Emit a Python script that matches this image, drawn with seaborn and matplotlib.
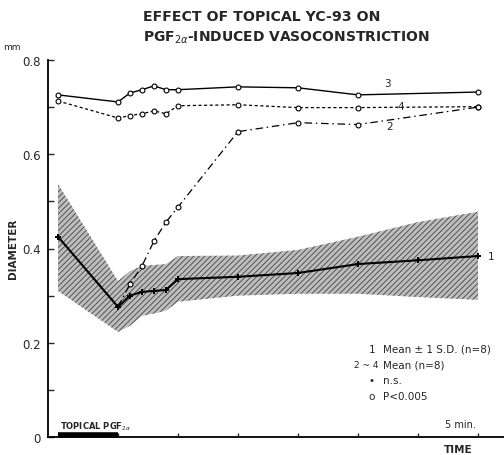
import numpy as np
import pandas as pd
import matplotlib
matplotlib.use("Agg")
import matplotlib.pyplot as plt
import seaborn as sns

# ---------------- data ----------------
time_1 = [0, 5, 6, 7, 8, 9, 10, 15, 20, 25, 30, 35]
mean_1 = [0.425, 0.276, 0.300, 0.308, 0.310, 0.312, 0.335, 0.340, 0.348, 0.367, 0.375, 0.384]
upper_1 = [0.537, 0.331, 0.352, 0.363, 0.365, 0.367, 0.384, 0.385, 0.397, 0.425, 0.456, 0.478]
lower_1 = [0.310, 0.223, 0.236, 0.257, 0.262, 0.268, 0.287, 0.300, 0.304, 0.304, 0.297, 0.291]

time_34 = [0, 5, 6, 7, 8, 9, 10, 15, 20, 25, 35]
series_3 = [0.726, 0.711, 0.730, 0.737, 0.745, 0.737, 0.737, 0.743, 0.741, 0.726, 0.732]
series_4 = [0.713, 0.677, 0.682, 0.686, 0.692, 0.686, 0.703, 0.705, 0.699, 0.699, 0.701]

time_2 = [5, 6, 7, 8, 9, 10, 15, 20, 25, 35]
series_2 = [0.276, 0.325, 0.363, 0.416, 0.456, 0.488, 0.648, 0.667, 0.663, 0.700]

pgf_period = [0, 5]
y_ticks = [0, 0.1, 0.2, 0.3, 0.4, 0.5, 0.6, 0.7, 0.8]
y_labels = ["0", "", "0.2", "", "0.4", "", "0.6", "", "0.8"]
x_ticks = [5, 10, 15, 20, 25, 30, 35]

df1 = pd.DataFrame({"t": time_1, "mean": mean_1, "up": upper_1, "lo": lower_1})
df3 = pd.DataFrame({"t": time_34, "v": series_3})
df4 = pd.DataFrame({"t": time_34, "v": series_4})
df2 = pd.DataFrame({"t": time_2, "v": series_2})

# ---------------- figure ----------------
sns.set_style("ticks")
plt.rcParams["font.family"] = ["DejaVu Sans"]
plt.rcParams["mathtext.fontset"] = "dejavusans"
plt.rcParams["hatch.linewidth"] = 0.6
plt.rcParams["hatch.color"] = "#2a2a2a"

W, H = 504, 456
fig = plt.figure(figsize=(W / 100, H / 100), dpi=100)
fig.patch.set_facecolor("white")
ax = fig.add_axes([48 / W, 1 - 438 / H, (504 - 48) / W, (438 - 61) / H])
ax.set_facecolor("white")

# band (mean +/- 1 SD)
ax.fill_between(df1["t"], df1["lo"], df1["up"], facecolor="#bdbdbd",
                edgecolor="#444444", hatch="//////", linewidth=0.0, zorder=1)

# mean line 1
sns.lineplot(data=df1, x="t", y="mean", ax=ax, color="black", lw=1.5,
             marker="P", markersize=4, markeredgewidth=0, zorder=3)

# series 3 (solid), 4 (dashed), 2 (dash-dot)
sns.lineplot(data=df3, x="t", y="v", ax=ax, color="black", lw=1.0,
             marker="o", markersize=3.5, markerfacecolor="white",
             markeredgecolor="black", markeredgewidth=0.8, zorder=4)
sns.lineplot(data=df4, x="t", y="v", ax=ax, color="black", lw=0.9,
             linestyle=(0, (2.5, 2)), marker="o", markersize=3.5,
             markerfacecolor="white", markeredgecolor="black",
             markeredgewidth=0.8, zorder=4)
sns.lineplot(data=df2, x="t", y="v", ax=ax, color="black", lw=0.9,
             linestyle=(0, (6, 3, 1.2, 3)), marker="o", markersize=3.5,
             markerfacecolor="white", markeredgecolor="black",
             markeredgewidth=0.8, zorder=4)
# first point of series 2 sits on the mean line (ns)
ax.lines[-1].set_markevery(list(range(1, len(time_2))))

# topical PGF bar
ax.plot(pgf_period, [0.005, 0.005], color="black", lw=4, solid_capstyle="butt",
        zorder=5, clip_on=False)

ax.set_xlim((48 - 58) / 12, (504 - 58) / 12)
ax.set_ylim(0, 0.8)
ax.set_xlabel("")
ax.set_ylabel("")
sns.despine(ax=ax)
for s in ["left", "bottom"]:
    ax.spines[s].set_linewidth(1.3)
    ax.spines[s].set_color("black")
ax.set_yticks(y_ticks)
ax.set_yticklabels(y_labels, fontsize=8.5)
ax.set_xticks(x_ticks)
ax.set_xticklabels([])
ax.tick_params(axis="y", direction="in", length=4, width=1, pad=5)
ax.tick_params(axis="x", direction="in", length=3, width=1)

# ---------------- text ----------------
def ftext(x, y, s, **kw):
    fig.text(x / W, 1 - y / H, s, **kw)

ftext(143, 17, "EFFECT OF TOPICAL YC-93 ON", fontsize=10.2, ha="left",
      va="center", fontweight="bold")
ftext(143, 38, r"PGF$_{2\alpha}$-INDUCED VASOCONSTRICTION", fontsize=10,
      ha="left", va="center", fontweight="bold")
ftext(12, 47, "mm", fontsize=6.5, ha="center", va="center")
ftext(13, 249, "DIAMETER", fontsize=7.5, ha="center", va="center",
      rotation=90, fontweight="bold")
ftext(458, 450, "TIME", fontsize=7.5, ha="center", va="center", fontweight="bold")
ftext(460, 425, "5 min.", fontsize=7, ha="center", va="center")
ftext(60, 427, r"TOPICAL PGF$_{2\alpha}$", fontsize=6, ha="left", va="center",
      fontweight="bold")

# legend block
ftext(372, 350, "1", fontsize=7.5, ha="center", va="center")
ftext(383, 350, "Mean ± 1 S.D. (n=8)", fontsize=7.5, ha="left", va="center")
ftext(366, 366, "2 ~ 4", fontsize=6.5, ha="center", va="center")
ftext(383, 366, "Mean (n=8)", fontsize=7.5, ha="left", va="center")
ftext(372, 381, "•", fontsize=7.5, ha="center", va="center")
ftext(383, 381, "n.s.", fontsize=7.5, ha="left", va="center")
ftext(372, 397, "o", fontsize=7.5, ha="center", va="center")
ftext(383, 397, "P<0.005", fontsize=7.5, ha="left", va="center")

# series labels
ftext(387, 84, "3", fontsize=7.5, ha="center", va="center")
ftext(401, 107, "4", fontsize=7.5, ha="center", va="center")
ftext(390, 127, "2", fontsize=7.5, ha="center", va="center")
ftext(491, 257, "1", fontsize=7.5, ha="center", va="center")

fig.savefig("out.png", dpi=100, facecolor="white")
